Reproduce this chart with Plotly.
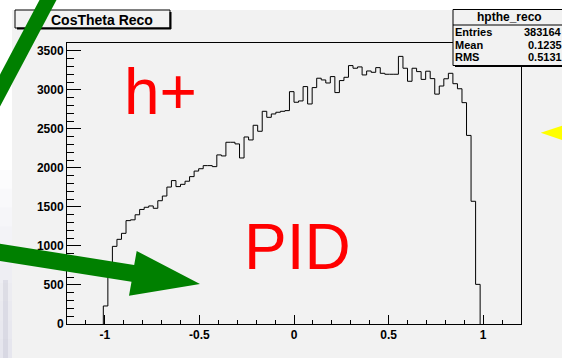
import math
import numpy as np
import plotly.graph_objects as go

# Histogram contents (100 bins on [-1.2, 1.2]; only the filled ones listed)
counts = [
    231, 700, 995, 1085, 1162, 1325, 1335, 1400, 1468, 1496,
    1513, 1483, 1580, 1640, 1755, 1838, 1761, 1790, 1830, 1889,
    1960, 1990, 2030, 2030, 2017, 2167, 2154, 2329, 2329, 2308,
    2128, 2397, 2359, 2547, 2470, 2726, 2649, 2692, 2714, 2726,
    2735, 2978, 2842, 2859, 3043, 2820, 3030, 3150, 3128, 3089,
    3171, 2966, 3120, 3162, 3312, 3278, 3295, 3192, 3243, 3226,
    3286, 3213, 3201, 3201, 3201, 3430, 3278, 3111, 3278, 3235,
    3135, 3240, 3145, 2946, 3050, 3143, 3213, 3080, 3015, 2837,
    2417, 1573, 508,
]
bin_lo = -1.008
bin_width = 0.024
x_range = [-1.2, 1.2]

x_tick_vals = [-1, -0.5, 0, 0.5, 1]
x_tick_text = ["-1", "-0.5", "0", "0.5", "1"]
y_tick_vals = [0, 500, 1000, 1500, 2000, 2500, 3000, 3500]
y_tick_text = [str(v) for v in y_tick_vals]

hist_title = "CosTheta Reco"
stats_name = "hpthe_reco"
stats_labels = ["Entries", "Mean", "RMS"]
stats_values = ["383164", "0.1235", "0.5131"]
big_labels = ["h+", "PID"]

# ---- page geometry (pixels) ----
W, H = 562, 358
L, R, T, B = 67, 521, 43, 324
PW, PH = R - L, B - T


def px(x):
    return (x - L) / PW


def py(y):
    return (B - y) / PH


def path(points):
    return "M " + " L ".join(f"{px(x):.5f},{py(y):.5f}" for x, y in points) + " Z"


# ---- histogram outline ----
edges = bin_lo + bin_width * np.arange(len(counts) + 1)
xs = np.concatenate([[edges[0]], edges[:-1], [edges[-1]]])
ys = np.concatenate([[0], counts, [0]])
y_max = 1.05 * max(counts)

fig = go.Figure()
fig.add_trace(go.Scatter(
    x=xs, y=ys, mode="lines",
    line=dict(color="black", width=1, shape="hv"),
    hoverinfo="skip",
))

tickfont = dict(family="Liberation Sans", size=12, color="black", weight="bold")
fig.update_layout(
    width=W, height=H, autosize=False,
    margin=dict(l=L, r=W - R, t=T, b=H - B, pad=0),
    paper_bgcolor="white", plot_bgcolor="#f2f2f2",
    showlegend=False,
    font=dict(family="Liberation Sans", color="black"),
    xaxis=dict(
        range=x_range, tickmode="array", tickvals=x_tick_vals, ticktext=x_tick_text,
        ticks="inside", ticklen=9, tickwidth=1, tickcolor="black",
        minor=dict(tickmode="linear", tick0=0, dtick=0.1, ticks="inside",
                   ticklen=4, tickwidth=1, tickcolor="black"),
        showgrid=False, zeroline=False, showline=True, mirror=True,
        linecolor="black", linewidth=1, tickfont=tickfont,
    ),
    yaxis=dict(
        range=[0, y_max], tickmode="array", tickvals=y_tick_vals, ticktext=y_tick_text,
        ticks="inside", ticklen=14, tickwidth=1, tickcolor="black",
        minor=dict(tickmode="linear", tick0=0, dtick=100, ticks="inside",
                   ticklen=7, tickwidth=1, tickcolor="black"),
        showgrid=False, zeroline=False, showline=True, mirror=True,
        linecolor="black", linewidth=1, tickfont=tickfont,
    ),
)

shapes = []
# canvas background
shapes.append(dict(type="rect", xref="paper", yref="paper", layer="below",
                   x0=px(12), x1=px(W + 5), y0=py(10), y1=py(H + 5),
                   fillcolor="#f2f2f2", line=dict(width=0)))
# soft lavender fade in the left margin, stronger towards the bottom
n_steps = 10
for k in range(n_steps):
    y_top = 170 + k * (H - 170) / n_steps
    shapes.append(dict(type="rect", xref="paper", yref="paper", layer="below",
                       x0=px(0), x1=px(12), y0=py(y_top), y1=py(H + 5),
                       fillcolor="rgba(215,212,232,0.07)", line=dict(width=0)))
shapes.append(dict(type="rect", xref="paper", yref="paper", layer="below",
                   x0=px(3), x1=px(8), y0=py(280), y1=py(H + 5),
                   fillcolor="rgba(175,175,195,0.25)", line=dict(width=0)))
# title pave with shadow
shapes.append(dict(type="rect", xref="paper", yref="paper",
                   x0=px(15), x1=px(170), y0=py(10), y1=py(28),
                   fillcolor="#f2f2f2", line=dict(color="black", width=1)))
shapes.append(dict(type="line", xref="paper", yref="paper",
                   x0=px(17), x1=px(171), y0=py(28.5), y1=py(28.5),
                   line=dict(color="black", width=2)))
shapes.append(dict(type="line", xref="paper", yref="paper",
                   x0=px(170.5), x1=px(170.5), y0=py(12), y1=py(29),
                   line=dict(color="black", width=2)))
# stats pave
shapes.append(dict(type="rect", xref="paper", yref="paper",
                   x0=px(453), x1=px(570), y0=py(9.5), y1=py(65.5),
                   fillcolor="#f2f2f2", line=dict(color="black", width=1)))
shapes.append(dict(type="line", xref="paper", yref="paper",
                   x0=px(455), x1=px(570), y0=py(66), y1=py(66),
                   line=dict(color="black", width=2)))
shapes.append(dict(type="line", xref="paper", yref="paper",
                   x0=px(453), x1=px(570), y0=py(25), y1=py(25),
                   line=dict(color="black", width=1)))

# green band at the top left
shapes.append(dict(type="line", xref="paper", yref="paper",
                   x0=px(53.3), y0=py(-10), x1=px(-20.9), y1=py(130),
                   line=dict(color="#008000", width=15)))

# green arrow
tip = (200, 284)
hA = (136.7, 251)
hB = (129, 295.7)
mid = ((hA[0] + hB[0]) / 2, (hA[1] + hB[1]) / 2)
ang = math.atan2(tip[1] - mid[1], tip[0] - mid[0])
ux, uy = math.cos(ang), math.sin(ang)
nx, ny = -math.sin(ang), math.cos(ang)
half = 8.5
start = (mid[0] - 175 * ux, mid[1] - 175 * uy)
arrow = [
    (start[0] - half * nx, start[1] - half * ny),
    (mid[0] - half * nx, mid[1] - half * ny),
    hA, tip, hB,
    (mid[0] + half * nx, mid[1] + half * ny),
    (start[0] + half * nx, start[1] + half * ny),
]
shapes.append(dict(type="path", xref="paper", yref="paper", path=path(arrow),
                   fillcolor="#008000", line=dict(width=0)))

# yellow arrow head at the right edge
shapes.append(dict(type="path", xref="paper", yref="paper",
                   path=path([(540.7, 132.7), (585, 118.2), (585, 147.9)]),
                   fillcolor="#ffff00", line=dict(width=0)))

fig.update_layout(shapes=shapes)

ann = []


def text(x, y, s, size, xanchor="center", color="black", bold=True):
    ann.append(dict(xref="paper", yref="paper", x=px(x), y=py(y), text=s,
                    showarrow=False, xanchor=xanchor, yanchor="middle",
                    borderpad=0, borderwidth=0,
                    font=dict(family="Liberation Sans", size=size, color=color,
                              weight="bold" if bold else "normal")))


text(102, 19.5, hist_title, 14)
text(509, 16.5, stats_name, 12)
for i, (lab, val) in enumerate(zip(stats_labels, stats_values)):
    yy = 32 + 12.6 * i
    text(455, yy, lab, 11, xanchor="left")
    text(562, yy, val, 11, xanchor="right")

text(160.5, 92, big_labels[0], 64, color="#ff0000", bold=False)
text(297.5, 247, big_labels[1], 64, color="#ff0000", bold=False)

fig.update_layout(annotations=ann)

fig.write_html("out.html", config={"displayModeBar": False})
